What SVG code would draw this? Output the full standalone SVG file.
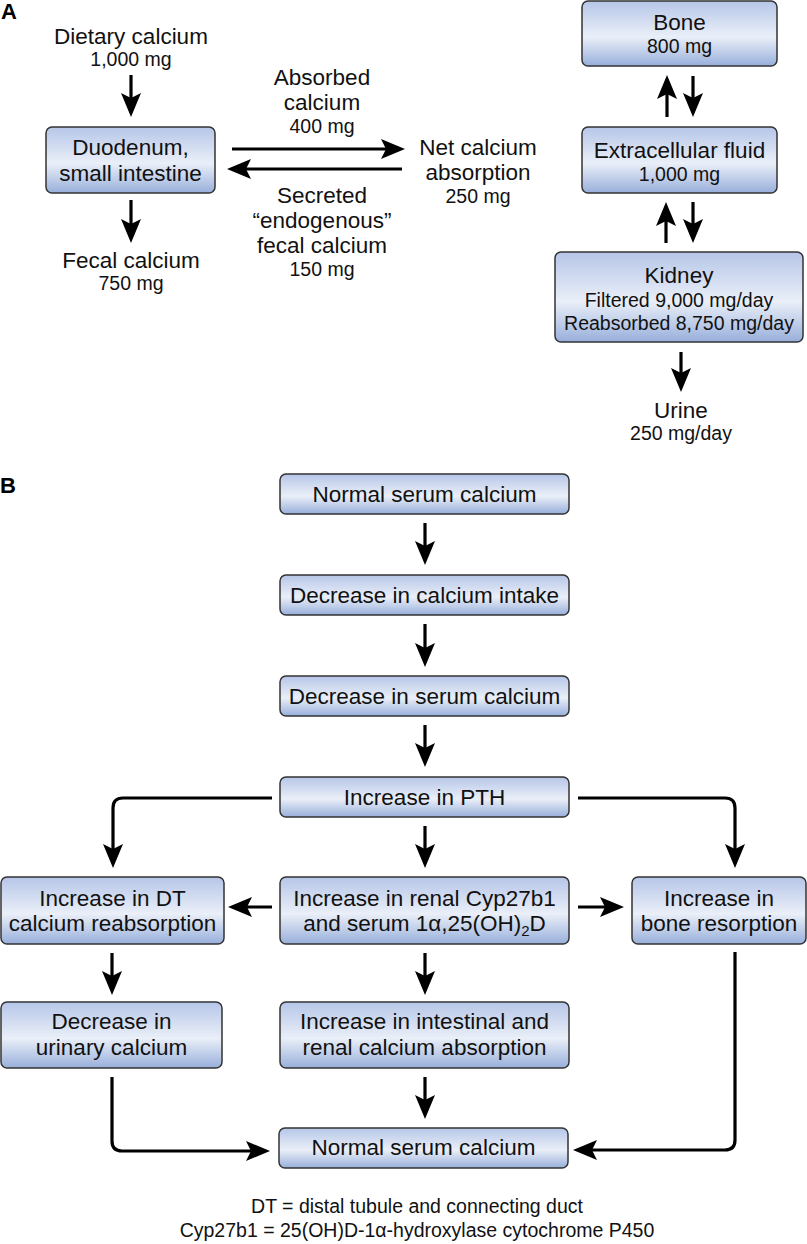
<svg xmlns="http://www.w3.org/2000/svg" width="807" height="1244" viewBox="0 0 807 1244">
<defs>
<linearGradient id="g" x1="0" y1="0" x2="0" y2="1">
<stop offset="0" stop-color="#b6c6e8"/>
<stop offset="0.55" stop-color="#eaeff8"/>
<stop offset="1" stop-color="#98afdb"/>
</linearGradient>
<marker id="ah" markerUnits="userSpaceOnUse" viewBox="0 0 24 20" refX="14" refY="10" markerWidth="24" markerHeight="20" orient="auto">
<path d="M0,0 L24,10 L0,20 L5,10 Z" fill="#000"/>
</marker>
<style>
.box{fill:url(#g);stroke:#333;stroke-width:1.5}
.t{font-family:"Liberation Sans",Arial,Helvetica,sans-serif;font-size:22.5px;text-anchor:middle;fill:#111}
.s{font-size:19.5px}
.lbl{font-family:"Liberation Sans",Arial,Helvetica,sans-serif;font-weight:bold;font-size:22px;fill:#000}
.c{fill:none;stroke:#000;stroke-width:3.2;marker-end:url(#ah)}
</style>
</defs>
<rect width="807" height="1244" fill="#fff"/>

<text class="lbl" x="1" y="19">A</text>
<text class="lbl" x="0" y="493">B</text>

<g id="connectors">
<path class="c" d="M131,75 V107"/>
<path class="c" d="M131,200 V233"/>
<path class="c" d="M232,149 H395"/>
<path class="c" d="M402,169 H237"/>
<path class="c" d="M667,117 V85"/>
<path class="c" d="M693,76 V107"/>
<path class="c" d="M666,243 V212"/>
<path class="c" d="M693,202 V233"/>
<path class="c" d="M681,352 V382"/>
<path class="c" d="M425,523 V555"/>
<path class="c" d="M425,624 V657"/>
<path class="c" d="M425,725 V757"/>
<path class="c" d="M425,826 V858"/>
<path class="c" d="M272,798 H123 Q113,798 113,808 V858"/>
<path class="c" d="M578,798 H725 Q735,798 735,808 V858"/>
<path class="c" d="M272,907 H238"/>
<path class="c" d="M578,907 H614"/>
<path class="c" d="M112,953 V985"/>
<path class="c" d="M425,953 V985"/>
<path class="c" d="M425,1077 V1109"/>
<path class="c" d="M112,1077 V1141 Q112,1151 122,1151 H260"/>
<path class="c" d="M735,952 V1140 Q735,1150 725,1150 H583"/>
</g>

<g id="dietary">
<text class="t" x="131" y="44">Dietary calcium</text>
<text class="t s" x="131" y="66">1,000 mg</text>
</g>
<g id="duodenum">
<rect class="box" x="46" y="127" width="169" height="66" rx="6"/>
<text class="t" x="130.5" y="155">Duodenum,</text>
<text class="t" x="130.5" y="181">small intestine</text>
</g>
<g id="fecal">
<text class="t" x="131" y="268">Fecal calcium</text>
<text class="t s" x="131" y="290">750 mg</text>
</g>
<g id="absorbed">
<text class="t" x="322" y="85">Absorbed</text>
<text class="t" x="322" y="110">calcium</text>
<text class="t s" x="322" y="133">400 mg</text>
</g>
<g id="secreted">
<text class="t" x="322" y="203">Secreted</text>
<text class="t" x="322" y="228">“endogenous”</text>
<text class="t" x="322" y="253">fecal calcium</text>
<text class="t s" x="322" y="276">150 mg</text>
</g>
<g id="net">
<text class="t" x="478" y="155">Net calcium</text>
<text class="t" x="478" y="180">absorption</text>
<text class="t s" x="478" y="203">250 mg</text>
</g>
<g id="bone">
<rect class="box" x="582" y="1" width="195" height="65" rx="6"/>
<text class="t" x="679.5" y="30">Bone</text>
<text class="t s" x="679.5" y="53">800 mg</text>
</g>
<g id="ecf">
<rect class="box" x="582" y="127" width="195" height="66" rx="6"/>
<text class="t" x="679.5" y="158">Extracellular fluid</text>
<text class="t s" x="679.5" y="181">1,000 mg</text>
</g>
<g id="kidney">
<rect class="box" x="555" y="252" width="248" height="90" rx="6"/>
<text class="t" x="679" y="283">Kidney</text>
<text class="t s" x="679" y="307">Filtered 9,000 mg/day</text>
<text class="t s" x="679" y="330">Reabsorbed 8,750 mg/day</text>
</g>
<g id="urine">
<text class="t" x="681" y="418">Urine</text>
<text class="t s" x="681" y="440">250 mg/day</text>
</g>

<g id="b1">
<rect class="box" x="280" y="474" width="289" height="40" rx="6"/>
<text class="t" x="424.5" y="502">Normal serum calcium</text>
</g>
<g id="b2">
<rect class="box" x="280" y="575" width="289" height="40" rx="6"/>
<text class="t" x="424.5" y="603">Decrease in calcium intake</text>
</g>
<g id="b3">
<rect class="box" x="280" y="676" width="289" height="40" rx="6"/>
<text class="t" x="424.5" y="704">Decrease in serum calcium</text>
</g>
<g id="b4">
<rect class="box" x="280" y="777" width="289" height="40" rx="6"/>
<text class="t" x="424.5" y="805">Increase in PTH</text>
</g>
<g id="b5">
<rect class="box" x="1" y="877" width="223" height="67" rx="6"/>
<text class="t" x="112.5" y="906">Increase in DT</text>
<text class="t" x="112.5" y="931">calcium reabsorption</text>
</g>
<g id="b6">
<rect class="box" x="280" y="877" width="289" height="67" rx="6"/>
<text class="t" x="424.5" y="906">Increase in renal Cyp27b1</text>
<text class="t" x="424.5" y="931">and serum 1α,25(OH)<tspan font-size="15" dy="5">2</tspan><tspan dy="-5">D</tspan></text>
</g>
<g id="b7">
<rect class="box" x="632" y="877" width="174" height="67" rx="6"/>
<text class="t" x="719" y="906">Increase in</text>
<text class="t" x="719" y="931">bone resorption</text>
</g>
<g id="b8">
<rect class="box" x="1" y="1002" width="221" height="66" rx="6"/>
<text class="t" x="111.5" y="1029">Decrease in</text>
<text class="t" x="111.5" y="1055">urinary calcium</text>
</g>
<g id="b9">
<rect class="box" x="280" y="1002" width="289" height="66" rx="6"/>
<text class="t" x="424.5" y="1029">Increase in intestinal and</text>
<text class="t" x="424.5" y="1055">renal calcium absorption</text>
</g>
<g id="b10">
<rect class="box" x="279" y="1128" width="289" height="40" rx="6"/>
<text class="t" x="423.5" y="1155">Normal serum calcium</text>
</g>
<g id="footnote">
<text class="t s" x="417" y="1213">DT = distal tubule and connecting duct</text>
<text class="t s" x="417" y="1237">Cyp27b1 = 25(OH)D-1α-hydroxylase cytochrome P450</text>
</g>
</svg>
